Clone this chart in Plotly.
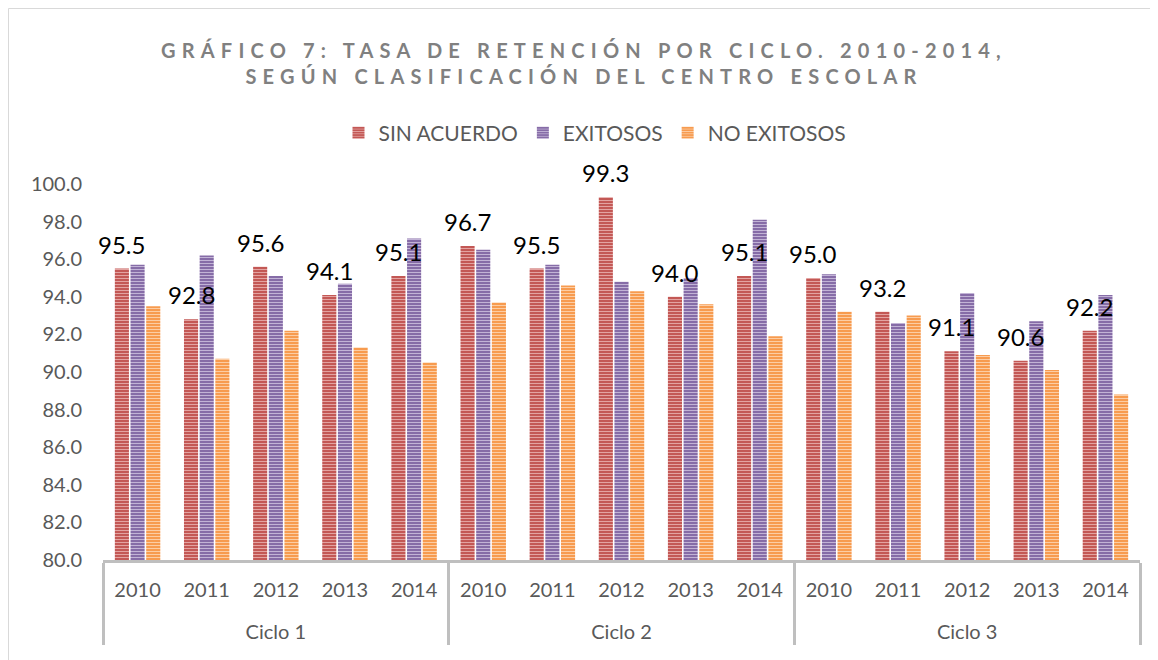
import plotly.graph_objects as go

ciclos = ["Ciclo 1"] * 5 + ["Ciclo 2"] * 5 + ["Ciclo 3"] * 5
years = ["2010", "2011", "2012", "2013", "2014"] * 3

sin_acuerdo = [95.5, 92.8, 95.6, 94.1, 95.1, 96.7, 95.5, 99.3, 94.0, 95.1, 95.0, 93.2, 91.1, 90.6, 92.2]
exitosos = [95.7, 96.2, 95.1, 94.7, 97.1, 96.5, 95.7, 94.8, 95.0, 98.1, 95.2, 92.6, 94.2, 92.7, 94.1]
no_exitosos = [93.5, 90.7, 92.2, 91.3, 90.5, 93.7, 94.6, 94.3, 93.6, 91.9, 93.2, 93.0, 90.9, 90.1, 88.8]

series_names = ["SIN ACUERDO", "EXITOSOS", "NO EXITOSOS"]
base_colors = ["#c0504d", "#8064a2", "#f79646"]
stripe_colors = ["#e3a3a1", "#c2b3d6", "#fccda4"]

FONT = "Lato, Calibri, Carlito, sans-serif"
BARGAP = 0.32
BARGROUPGAP = 0.1

# page body has an 8px margin: plot area aimed at x 103..1140, y 184..560 on screen
L, T, PW, PH = 95, 176, 1037, 376

fig = go.Figure()
for name, vals, bc, sc in zip(series_names, [sin_acuerdo, exitosos, no_exitosos], base_colors, stripe_colors):
    fig.add_trace(go.Bar(
        name=name,
        x=[["<br>" + c for c in ciclos], years],
        y=vals,
        marker=dict(
            color=bc,
            line=dict(width=0),
            pattern=dict(shape="-", size=3, solidity=0.4, fgcolor=sc, bgcolor=bc, fillmode="replace"),
        ),
    ))

# data labels for SIN ACUERDO (first bar of each group)
slot = (1 - BARGAP) / 3
for i, v in enumerate(sin_acuerdo):
    fig.add_annotation(
        x=i - slot, y=v, xref="x", yref="y",
        text=f"{v:.1f}", showarrow=False,
        yanchor="bottom", yshift=8,
        font=dict(family=FONT, size=24, color="#000000"),
    )

title_text = ('<span style="letter-spacing:6.2px">GRÁFICO 7: TASA DE RETENCIÓN POR CICLO. 2010-2014,</span><br>'
              '<span style="letter-spacing:6.2px">SEGÚN CLASIFICACIÓN DEL CENTRO ESCOLAR</span>')

fig.update_layout(
    width=1158, height=660,
    paper_bgcolor="white", plot_bgcolor="white",
    margin=dict(l=L, r=1158 - L - PW, t=T, b=660 - T - PH),
    barmode="group", bargap=BARGAP, bargroupgap=BARGROUPGAP,
    font=dict(family=FONT, color="#595959"),
    title=dict(
        text="<b>" + title_text + "</b>",
        x=(584 - 8) / 1158, xanchor="center", xref="container",
        y=1 - 50 / 660, yanchor="middle", yref="container",
        font=dict(family=FONT, size=20, color="#808080"),
    ),
    legend=dict(
        orientation="h", x=(595 - 103) / PW, xanchor="center", y=1 + 51 / PH, yanchor="middle",
        font=dict(family=FONT, size=21, color="#595959"),
        traceorder="normal",
    ),
    yaxis=dict(
        range=[80, 100], dtick=2, tickformat=".1f",
        showgrid=False, zeroline=False, showline=False,
        tickfont=dict(family=FONT, size=20, color="#595959"),
        ticks="", ticklabelstandoff=20, automargin=False,
    ),
    xaxis=dict(
        type="multicategory", range=[-0.5, len(years) - 0.5], automargin=False,
        showline=True, linecolor="#bfbfbf", linewidth=3,
        showdividers=True, dividercolor="#bfbfbf", dividerwidth=3,
        tickfont=dict(family=FONT, size=20, color="#595959"),
        ticks="", showgrid=False, ticklabelstandoff=10,
    ),
    shapes=[dict(
        type="rect", xref="paper", yref="paper",
        x0=(8.5 - 103) / PW, x1=(1180 - 103) / PW, y0=-(690 - 560) / PH, y1=1 + (184 - 8.5) / PH,
        line=dict(color="#d9d9d9", width=1), fillcolor="rgba(0,0,0,0)", layer="below",
    )],
)

fig.write_html("out.html")
